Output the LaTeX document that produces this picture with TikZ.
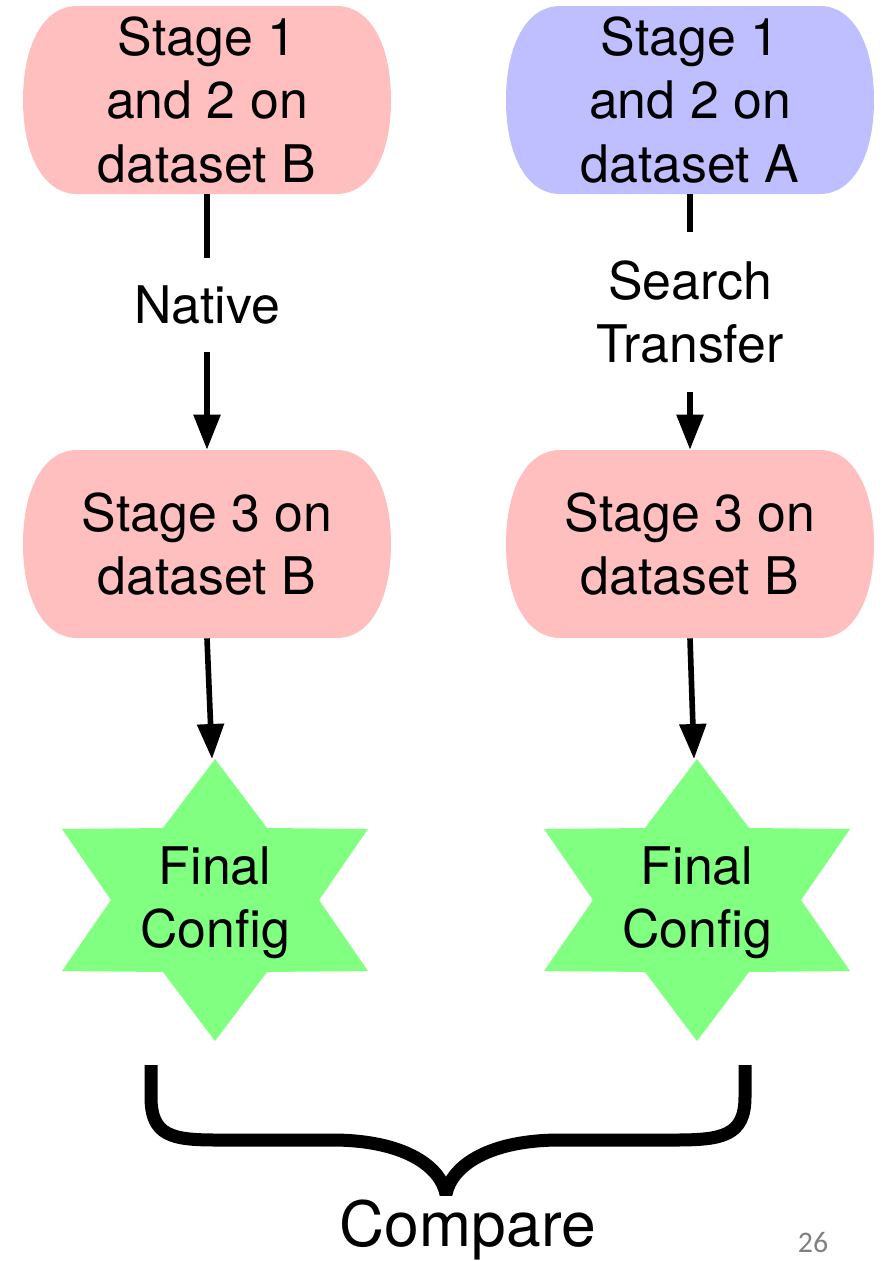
\documentclass[tikz,border=0pt]{standalone}
\usepackage{fontspec}
\setmainfont{TeX Gyre Heros}
\newfontfamily\pagefont{Carlito}
\usetikzlibrary{arrows.meta}
\definecolor{stagered}{RGB}{255,191,191}
\definecolor{stageblue}{RGB}{191,191,255}
\definecolor{stargreen}{RGB}{128,255,128}

\begin{document}
\begin{tikzpicture}[x=0.02cm, y=-0.02cm,
    txt/.style={font=\fontsize{29.5}{35.9}\selectfont, align=center},
    stagebox/.style={txt, minimum width=7.38cm, minimum height=3.76cm, inner sep=0pt},
    lbl/.style={txt, inner xsep=2pt, inner ysep=0.54cm},
    link/.style={line width=3.2pt},
    arr/.style={link, -{Triangle[length=0.7cm, width=0.52cm]}}]
    \useasboundingbox (0,0) rectangle (882,1261);

    % Box shapes (flat top and bottom, bulging sides)
    \foreach \cx/\cy/\col in {207/100/stagered, 690/100/stageblue, 207/544/stagered, 690/544/stagered}
      \fill[\col, shift={(\cx,\cy)}] (-130,-94) -- (130,-94)
        .. controls (163,-94) and (184,-56) .. (184,0)
        .. controls (184,56) and (163,94) .. (130,94) -- (-130,94)
        .. controls (-163,94) and (-184,56) .. (-184,0)
        .. controls (-184,-56) and (-163,-94) .. cycle;

    % Stages 1 and 2
    \node[stagebox] (s12nat) at (207,100) {Stage 1\\and 2 on\\dataset B};
    \node[stagebox] (s12tr) at (690,100) {Stage 1\\and 2 on\\dataset A};

    % Stage 3
    \node[stagebox] (s3nat) at (207,544) {Stage 3 on\\dataset B};
    \node[stagebox] (s3tr) at (690,544) {Stage 3 on\\dataset B};

    % Labels on the links
    \node[lbl] (native) at (207,305) {Native};
    \node[lbl, inner ysep=0.56cm] (search) at (690,312) {Search\\Transfer};

    \draw[link] (s12nat.south) -- (native.north);
    \draw[arr] (native.south) -- (s3nat.north);
    \draw[link] (s12tr.south) -- (search.north);
    \draw[arr] (search.south) -- (s3tr.north);

    % Final configs (stars)
    \foreach \cx/\nm in {215/nat, 697/tr} {
      \fill[stargreen, shift={(\cx,900)}] (0,-141) -- (52,-72) -- (153,-71) -- (104,0)
        -- (153,71) -- (52,72) -- (0,141) -- (-52,72) -- (-153,71) -- (-104,0)
        -- (-153,-71) -- (-52,-72) -- cycle;
      \coordinate (top\nm) at (\cx-3,759);
      \node[txt] (fin\nm) at (\cx,903) {Final\\Config};
    }

    \draw[arr] (s3nat.south) -- (topnat);
    \draw[arr] (s3tr.south) -- (toptr);

    % Brace
    \coordinate (bl) at (151,1065);
    \coordinate (br) at (745,1065);
    \draw[line width=7.4pt, line join=bevel] (bl) -- (151,1097)
      .. controls (151,1136) and (172,1140) .. (217,1140) -- (332,1140)
      .. controls (402,1140) and (440,1165) .. (446,1194)
      .. controls (452,1165) and (490,1140) .. (560,1140) -- (675,1140)
      .. controls (722,1140) and (745,1136) .. (745,1097) -- (br);
    \node[font=\fontsize{35.5}{40}\selectfont, anchor=base, inner sep=0pt] (compare) at (468,1246) {Compare};

    % Page number
    \node[font=\pagefont\fontsize{17}{20}\selectfont, text=black!50, anchor=base, inner sep=0pt] (pgno) at (813,1252) {26};
\end{tikzpicture}
\end{document}
